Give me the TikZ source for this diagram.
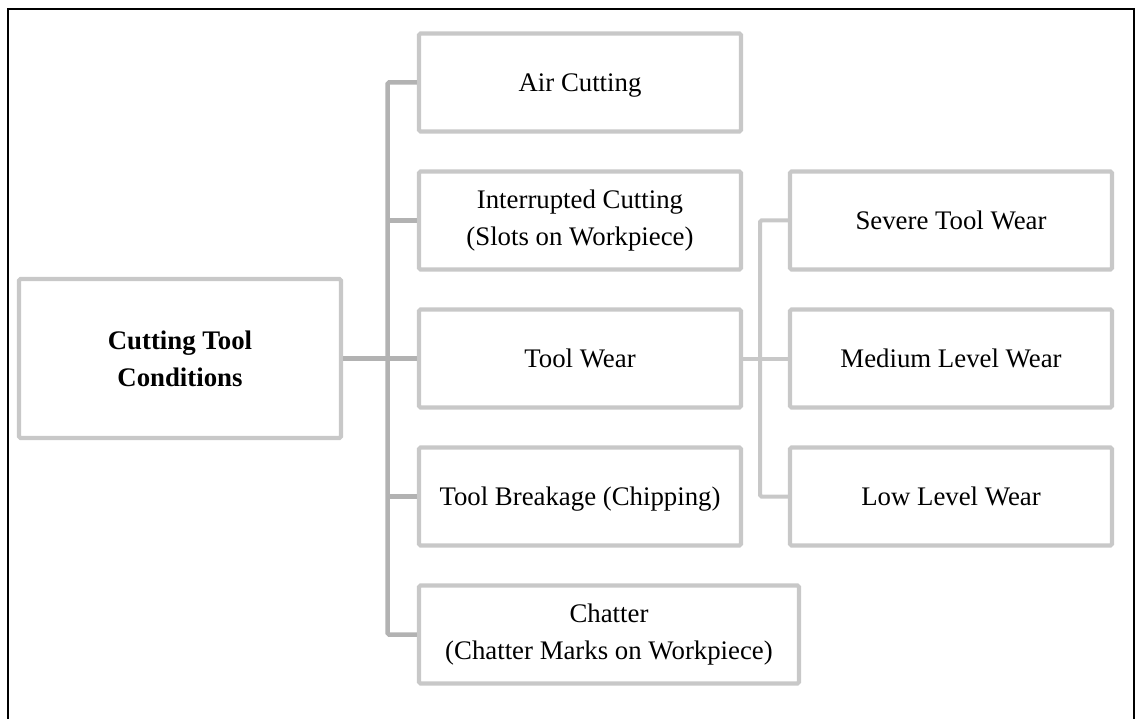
\documentclass[tikz,border=0pt]{standalone}
\usepackage{fontspec}
\setmainfont{Liberation Serif}
\definecolor{boxgray}{RGB}{200,200,200}
\definecolor{lingray}{RGB}{178,178,178}
\tikzset{
  cbox/.style={draw=boxgray, line width=4.2pt, rounded corners=1.5pt, fill=white,
    minimum width=322pt, minimum height=98pt, inner sep=0pt, align=center,
    font=\fontsize{26.8}{37}\selectfont},
  oneline/.style={text height=17.6pt, text depth=0pt},
  conL/.style={draw=lingray, line width=4.5pt, rounded corners=1.5pt},
  conR/.style={draw=boxgray, line width=4pt, rounded corners=1.5pt},
  frame/.style={draw=black, line width=2.2pt}
}
\begin{document}
\begin{tikzpicture}[x=1pt,y=-1pt]
\useasboundingbox (0,0) rectangle (1135,719);
\draw[frame] (8,730) -- (8,9) -- (1134,9) -- (1134,730);

\coordinate (t1) at (387.5,358.5);
\coordinate (t2) at (760,358.5);

\node[cbox, minimum height=159pt, font=\fontsize{26.8}{37}\selectfont\bfseries] (root) at (180,358.5) {Cutting Tool\\Conditions};
\node[cbox, oneline] (air) at (580,82.5) {Air Cutting};
\node[cbox] (ic) at (580,220.5) {Interrupted Cutting\\(Slots on Workpiece)};
\node[cbox, oneline] (tw) at (580,358.5) {Tool Wear};
\node[cbox, oneline] (tb) at (580,496.5) {Tool Breakage (Chipping)};
\node[cbox, minimum width=380pt] (ch) at (609,634.5) {Chatter\\(Chatter Marks on Workpiece)};
\node[cbox, oneline] (sev) at (951,220.5) {Severe Tool Wear};
\node[cbox, oneline] (med) at (951,358.5) {Medium Level Wear};
\node[cbox, oneline] (low) at (951,496.5) {Low Level Wear};

\draw[conL] (air.west) -| (t1) |- (ch.west);
\draw[conL] (root.east) -- (tw.west);
\draw[conL] (ic.west) -- (ic.west -| t1);
\draw[conL] (tb.west) -- (tb.west -| t1);

\draw[conR] (sev.west) -| (t2) |- (low.west);
\draw[conR] (tw.east) -- (med.west);
\end{tikzpicture}
\end{document}
